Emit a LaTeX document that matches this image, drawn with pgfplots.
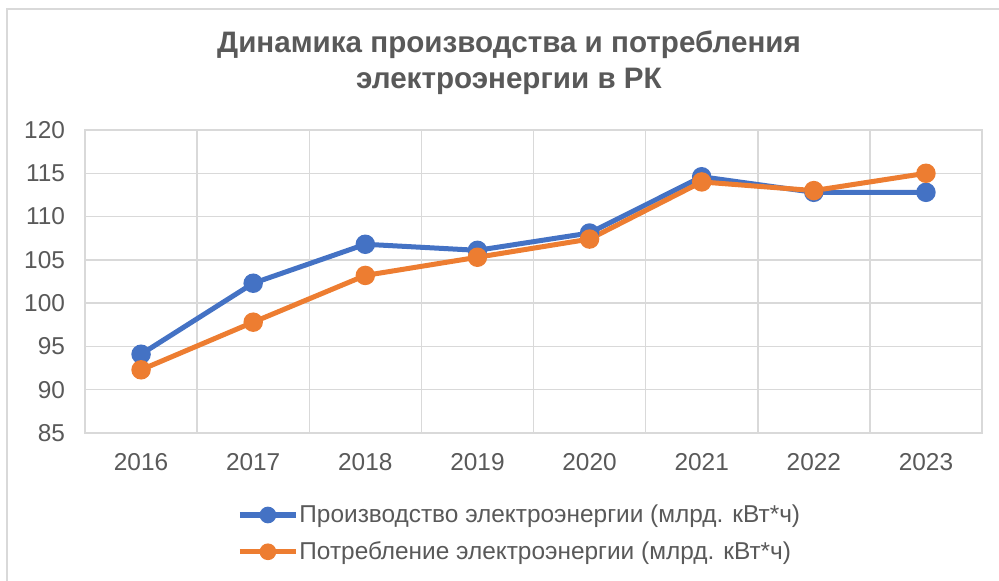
\documentclass[border=0pt]{standalone}
\usepackage{fontspec}
\setmainfont{Liberation Sans}
\usepackage{pgfplots}
\pgfplotsset{compat=1.18}
\definecolor{cProd}{HTML}{4472C4}
\definecolor{cCons}{HTML}{ED7D31}
\definecolor{cGrid}{HTML}{D9D9D9}
\definecolor{cText}{HTML}{595959}

\pgfplotstableread{
x prod cons
0 94.1  92.3
1 102.3 97.8
2 106.8 103.2
3 106.1 105.3
4 108.1 107.4
5 114.6 114.0
6 112.8 113.0
7 112.8 115.0
}\energy

\begin{document}
\begin{tikzpicture}
% frame of the chart area (cropped at right and bottom)
\path[use as bounding box] (0,0) rectangle (499.5pt,290.5pt);
\draw[cGrid, line width=0.75pt] (3.5pt,0) -- (3.5pt,286pt) -- (499.5pt,286pt);
\node[font=\bfseries\fontsize{14.8}{18}\selectfont, text=cText, align=center]
  at (254.5pt,259pt) {Динамика производства и потребления\\электроэнергии в РК};
\begin{axis}[
  at={(42.5pt,74pt)}, anchor=south west,
  width=448.5pt, height=151.5pt, scale only axis,
  xmin=-0.5, xmax=7.5, ymin=85, ymax=120,
  xtick={0,...,7},
  xticklabels={2016,2017,2018,2019,2020,2021,2022,2023},
  minor xtick={-0.5,0.5,...,7.5},
  ytick={85,90,...,120},
  xminorgrids, ymajorgrids,
  grid style={cGrid, line width=0.75pt},
  minor grid style={cGrid, line width=0.75pt},
  axis line style={cGrid, line width=0.75pt},
  major tick length=0pt, minor tick length=0pt,
  tick style={draw=none},
  /pgf/number format/assume math mode=true,
  ticklabel style={font=\fontsize{12.2}{14}\selectfont, text=cText},
  yticklabel style={xshift=-6.5pt},
  xticklabel style={yshift=-6.5pt},
  legend style={at={(0.1695,-0.222)}, anchor=north west, draw=none,
    font=\fontsize{12.2}{14}\selectfont, text=cText,
    row sep=4pt, inner sep=0pt,
    nodes={inner xsep=0.5pt},
    /tikz/every odd column/.append style={column sep=0pt}},
  legend cell align=left,
  legend image code/.code={
    \draw[#1, mark repeat=2, mark phase=2, mark size=2.9pt] plot coordinates {(0pt,0pt) (14pt,0pt) (28pt,0pt)};
  },
]
\addplot[cProd, line width=2.5pt, mark=*, mark size=3.6pt, mark options={solid}] table[x=x, y=prod] {\energy};
\addlegendentry{Производство электроэнергии (млрд. кВт*ч)}
\addplot[cCons, line width=2.5pt, mark=*, mark size=3.6pt, mark options={solid}] table[x=x, y=cons] {\energy};
\addlegendentry{Потребление электроэнергии (млрд. кВт*ч)}
\end{axis}
\end{tikzpicture}
\end{document}
